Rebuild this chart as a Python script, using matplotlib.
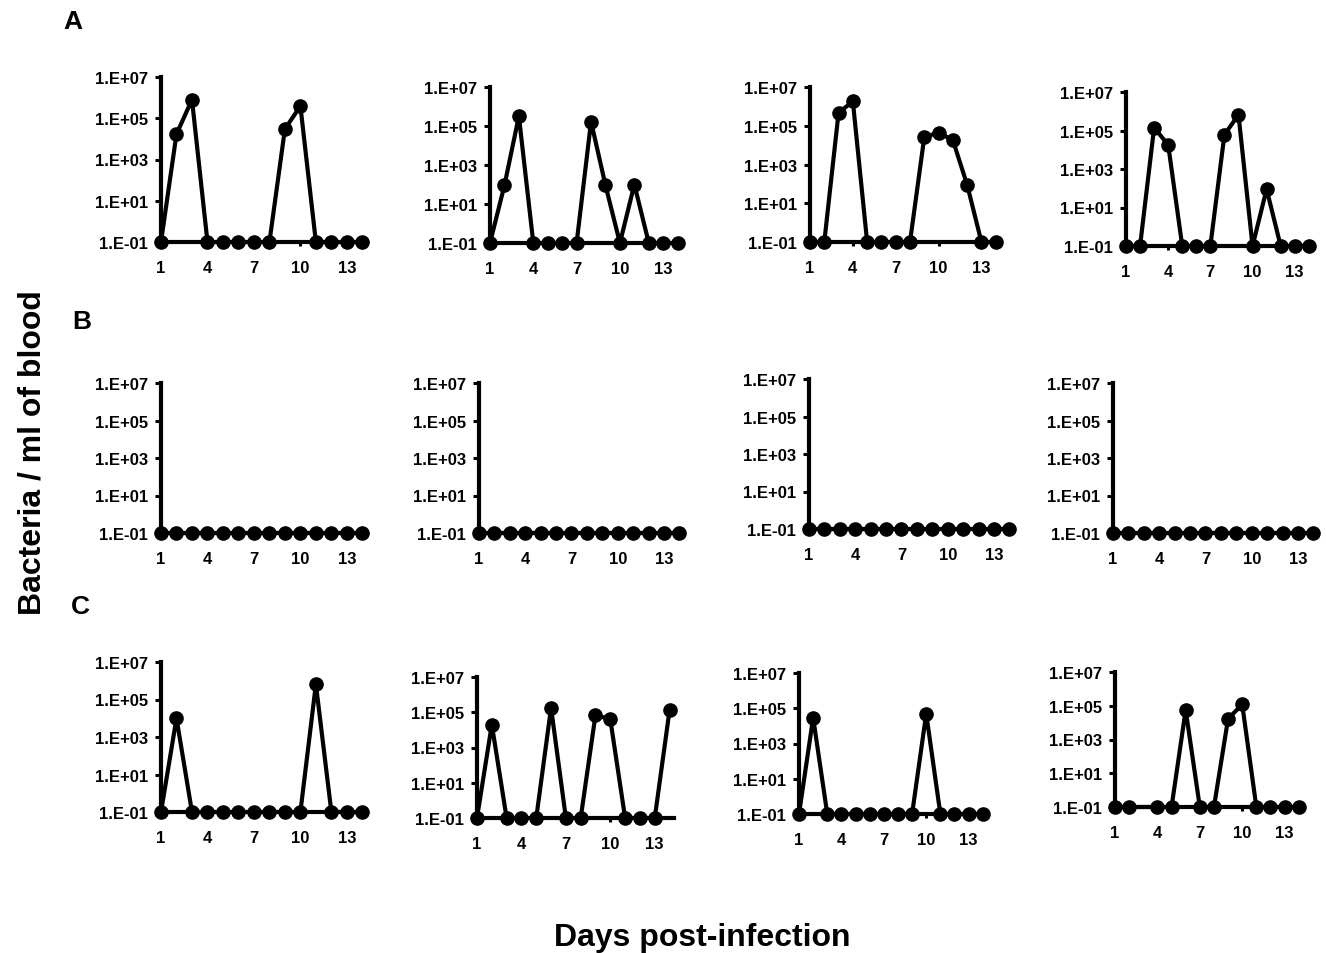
import numpy as np
import matplotlib
matplotlib.use('Agg')
from matplotlib import pyplot as plt
from matplotlib.ticker import FixedLocator, FixedFormatter

plt.rcParams['font.family'] = ['Liberation Sans', 'DejaVu Sans']
plt.rcParams['font.weight'] = 'bold'

# days post-infection
days = [1, 2, 3, 4, 5, 6, 7, 8, 9, 10, 11, 12, 13, 14]
days_c4 = [1, 2, 4, 5, 6, 7, 8, 9, 10, 11, 12, 13, 14]  # no sample on day 3

# bacteria / ml of blood, row A
a1 = [0.1, 1.7e4, 8e5, 0.1, 0.1, 0.1, 0.1, 0.1, 3e4, 3.9e5, 0.1, 0.1, 0.1, 0.1]
a2 = [0.1, 90, 3.2e5, 0.1, 0.1, 0.1, 0.1, 1.7e5, 90, 0.1, 100, 0.1, 0.1, 0.1]
a3 = [0.1, 0.1, 4.7e5, 1.8e6, 0.1, 0.1, 0.1, 0.1, 2.6e4, 4.4e4, 1.8e4, 90, 0.1, 0.1]
a4 = [0.1, 0.1, 1.4e5, 1.8e4, 0.1, 0.1, 0.1, 6e4, 6.6e5, 0.1, 90, 0.1, 0.1, 0.1]

# row B (nothing detected)
b1 = [0.1] * 14
b2 = [0.1] * 14
b3 = [0.1] * 14
b4 = [0.1] * 14

# row C
c1 = [0.1, 1e4, 0.1, 0.1, 0.1, 0.1, 0.1, 0.1, 0.1, 0.1, 6.5e5, 0.1, 0.1, 0.1]
c2 = [0.1, 2e4, 0.1, 0.1, 0.1, 1.8e5, 0.1, 0.1, 7e4, 4e4, 0.1, 0.1, 0.1, 1.3e5]
c3 = [0.1, 2.9e4, 0.1, 0.1, 0.1, 0.1, 0.1, 0.1, 0.1, 4.9e4, 0.1, 0.1, 0.1, 0.1]
c4 = [0.1, 0.1, 0.1, 0.1, 5.6e4, 0.1, 0.1, 1.7e4, 1.2e5, 0.1, 0.1, 0.1, 0.1]

yticks = [1e-1, 1e1, 1e3, 1e5, 1e7]
ytick_labels = ['1.E-01', '1.E+01', '1.E+03', '1.E+05', '1.E+07']
xticks = [1, 4, 7, 10, 13]

W, H = 1326, 954
fig = plt.figure(figsize=(W / 100, H / 100), dpi=100)

# panel boxes in pixels: left, right, top, bottom
boxes = [
    (161, 367, 78, 243), (490, 682, 88, 244), (810, 1000, 88, 243), (1126, 1313, 93, 247),
    (161, 367, 384, 534), (479, 684, 384, 534), (809, 1014, 380, 530), (1113, 1318, 384, 534),
    (161, 367, 663, 813), (477, 674, 678, 819), (799, 987, 674, 815), (1115, 1303, 673, 808),
]
panels = [
    (days, a1), (days, a2), (days, a3), (days, a4),
    (days, b1), (days, b2), (days, b3), (days, b4),
    (days, c1), (days, c2), (days, c3), (days_c4, c4),
]

for (l, r, t, b), (x, y) in zip(boxes, panels):
    ax = fig.add_axes([l / W, 1 - b / H, (r - l) / W, (b - t) / H])
    ax.plot(x, y, color='black', lw=3, marker='o', ms=9.5, clip_on=False, zorder=5)
    ax.set_yscale('log')
    ax.set_ylim(1e-1, 1e7)
    ax.set_xlim(1, 14.3)
    ax.yaxis.set_major_locator(FixedLocator(yticks))
    ax.yaxis.set_major_formatter(FixedFormatter(ytick_labels))
    ax.yaxis.set_minor_locator(FixedLocator([]))
    ax.set_xticks(xticks)
    ax.set_xticklabels([str(v) for v in xticks])
    for s in ['top', 'right']:
        ax.spines[s].set_visible(False)
    for s in ['left', 'bottom']:
        ax.spines[s].set_linewidth(3)
    ax.tick_params(axis='y', length=4.5, width=2.2, pad=5, labelsize=12)
    ax.tick_params(axis='x', length=3, width=2.2, pad=10, labelsize=12)
    for lab in ax.get_xticklabels() + ax.get_yticklabels():
        lab.set_fontweight('bold')
    ax.patch.set_visible(False)

# panel letters
fig.text(73 / W, 1 - 22 / H, 'A', fontsize=19, fontweight='bold', ha='center', va='center')
fig.text(82 / W, 1 - 322 / H, 'B', fontsize=19, fontweight='bold', ha='center', va='center')
fig.text(80 / W, 1 - 607 / H, 'C', fontsize=19, fontweight='bold', ha='center', va='center')

fig.text(33 / W, 1 - 453 / H, 'Bacteria / ml of blood', fontsize=23, fontweight='bold',
         rotation=90, ha='center', va='center')
fig.text(702 / W, 1 - 938 / H, 'Days post-infection', fontsize=23, fontweight='bold',
         ha='center', va='center')

plt.savefig('out.png', dpi=100)
plt.close()
